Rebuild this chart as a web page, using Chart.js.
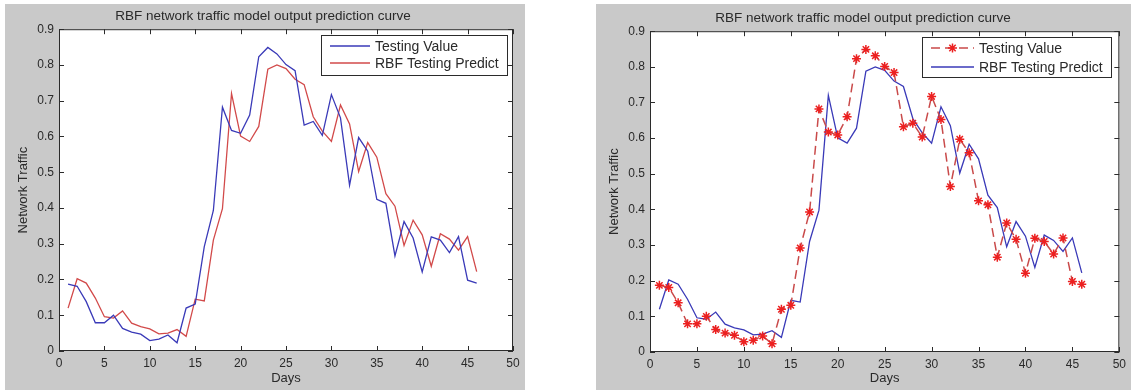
<!DOCTYPE html>
<html>
<head>
<meta charset="utf-8">
<script src="https://cdn.jsdelivr.net/npm/chart.js@4"></script>
<style>
  body { margin: 0; background: #fff; width: 1131px; height: 390px; position: relative; overflow: hidden; }
  .panel { position: absolute; top: 4px; height: 386px; background: #c9c9c9; }
  #left { left: 5px; width: 520px; }
  #right { left: 596px; width: 535px; }
  canvas { display: block; }
</style>
</head>
<body>
<div class="panel" id="left"><canvas id="chartA" width="520" height="386"></canvas></div>
<div class="panel" id="right"><canvas id="chartB" width="535" height="386"></canvas></div>
<script>
const days = [1, 2, 3, 4, 5, 6, 7, 8, 9, 10, 11, 12, 13, 14, 15, 16, 17, 18, 19, 20, 21, 22, 23,
              24, 25, 26, 27, 28, 29, 30, 31, 32, 33, 34, 35, 36, 37, 38, 39, 40, 41, 42, 43, 44, 45, 46];

const testingValue = [0.187, 0.181, 0.138, 0.079, 0.079, 0.100, 0.063, 0.053, 0.047, 0.029, 0.033, 0.045,
                      0.023, 0.120, 0.131, 0.292, 0.393, 0.682, 0.617, 0.609, 0.660, 0.823, 0.849, 0.831,
                      0.801, 0.784, 0.632, 0.642, 0.603, 0.717, 0.652, 0.464, 0.597, 0.559, 0.424, 0.413,
                      0.266, 0.362, 0.316, 0.221, 0.319, 0.310, 0.275, 0.320, 0.198, 0.190];

const rbfPredict = [0.120, 0.202, 0.190, 0.148, 0.096, 0.092, 0.112, 0.078, 0.068, 0.062, 0.048, 0.050,
                    0.060, 0.041, 0.145, 0.140, 0.310, 0.398, 0.720, 0.601, 0.586, 0.628, 0.788, 0.800,
                    0.790, 0.760, 0.745, 0.655, 0.615, 0.586, 0.688, 0.635, 0.502, 0.583, 0.542, 0.440,
                    0.405, 0.295, 0.366, 0.325, 0.237, 0.328, 0.313, 0.282, 0.320, 0.222];

const chartTitle = 'RBF network traffic model output prediction curve';
const xTitle = 'Days';
const yTitle = 'Network Traffic';

const BLUE = '#3a3ab8';
const RED = '#d24a4a';
const TEXT = '#2a2a2a';
const FONT = "'Liberation Sans', Arial, sans-serif";

function toPoints(values) {
  return values.map((v, i) => ({ x: days[i], y: v }));
}

// white axes background, then a box with inward tick marks like MATLAB
const matlabFrame = {
  id: 'matlabFrame',
  beforeDatasetsDraw(chart) {
    const { ctx, chartArea: a } = chart;
    ctx.save();
    ctx.fillStyle = '#fff';
    ctx.fillRect(a.left, a.top, a.right - a.left, a.bottom - a.top);
    ctx.restore();
  },
  afterDatasetsDraw(chart) {
    const { ctx, chartArea: a, scales: { x, y } } = chart;
    const len = 5;
    ctx.save();
    ctx.strokeStyle = '#2b2b2b';
    ctx.lineWidth = 1;
    ctx.strokeRect(a.left + 0.5, a.top + 0.5, a.right - a.left - 1, a.bottom - a.top - 1);
    ctx.beginPath();
    x.ticks.forEach(t => {
      const px = Math.round(x.getPixelForValue(t.value)) + 0.5;
      ctx.moveTo(px, a.bottom); ctx.lineTo(px, a.bottom - len);
      ctx.moveTo(px, a.top); ctx.lineTo(px, a.top + len);
    });
    y.ticks.forEach(t => {
      const py = Math.round(y.getPixelForValue(t.value)) + 0.5;
      ctx.moveTo(a.left, py); ctx.lineTo(a.left + len, py);
      ctx.moveTo(a.right, py); ctx.lineTo(a.right - len, py);
    });
    ctx.stroke();
    ctx.restore();
  }
};

// legend box in the upper right corner of the axes
const boxLegend = {
  id: 'boxLegend',
  afterDraw(chart, args, opts) {
    const { ctx, chartArea: a } = chart;
    ctx.save();
    ctx.font = '14px ' + FONT;
    const textW = Math.max(...chart.data.datasets.map(d => ctx.measureText(d.label).width));
    const w = Math.round(9 + opts.sample + 5 + textW + 8);
    const h = 40;
    const bx = Math.round(a.right - opts.right - w);
    const by = Math.round(a.top + 6);
    ctx.fillStyle = '#fff';
    ctx.fillRect(bx, by, w, h);
    ctx.strokeStyle = '#2b2b2b';
    ctx.lineWidth = 1;
    ctx.strokeRect(bx + 0.5, by + 0.5, w, h);
    chart.data.datasets.forEach((d, i) => {
      const yy = by + 11 + i * opts.rowGap;
      const x0 = bx + 9, x1 = x0 + opts.sample;
      ctx.strokeStyle = d.borderColor;
      ctx.lineWidth = d.borderWidth;
      ctx.setLineDash(d.borderDash || []);
      ctx.beginPath();
      ctx.moveTo(x0, yy); ctx.lineTo(x1, yy);
      ctx.stroke();
      ctx.setLineDash([]);
      if (d.pointRadius > 0) {
        ctx.strokeStyle = d.pointBorderColor;
        ctx.fillStyle = d.pointBackgroundColor;
        ctx.lineWidth = d.pointBorderWidth;
        Chart.helpers.drawPoint(ctx, {
          pointStyle: d.pointStyle, radius: d.pointRadius, borderWidth: d.pointBorderWidth
        }, (x0 + x1) / 2, yy);
      }
      ctx.fillStyle = TEXT;
      ctx.textBaseline = 'middle';
      ctx.fillText(d.label, x1 + 5, yy + 1);
    });
    ctx.restore();
  }
};

function makeChart(id, datasets, layout) {
  return new Chart(document.getElementById(id), {
    type: 'line',
    data: { datasets },
    options: {
      responsive: false,
      animation: false,
      layout: { padding: { left: 8, right: layout.right, top: 0, bottom: 0 } },
      elements: { line: { tension: 0 } },
      plugins: {
        legend: { display: false },
        tooltip: { enabled: false },
        title: {
          display: true,
          text: chartTitle,
          color: TEXT,
          font: { family: FONT, size: 13.5, weight: 'normal' },
          padding: { top: layout.titleTop, bottom: 5 }
        },
        boxLegend: { sample: layout.sample, right: layout.legendRight, rowGap: layout.rowGap }
      },
      scales: {
        x: {
          type: 'linear',
          min: 0, max: 50,
          grid: { display: false, drawTicks: false },
          border: { display: false },
          ticks: { stepSize: 5, padding: 5, color: TEXT, font: { family: FONT, size: 12 } },
          title: { display: true, text: xTitle, color: TEXT, font: { family: FONT, size: 13 }, padding: { top: 0, bottom: 4 } },
          afterFit(scale) { scale.height = layout.xHeight; }
        },
        y: {
          min: 0, max: 0.9,
          grid: { display: false, drawTicks: false },
          border: { display: false },
          ticks: { stepSize: 0.1, padding: 5, color: TEXT, font: { family: FONT, size: 12 } },
          title: { display: true, text: yTitle, color: TEXT, font: { family: FONT, size: 13 }, padding: { top: 3, bottom: 0 } },
          afterFit(scale) { scale.width = 46; }
        }
      }
    },
    plugins: [matlabFrame, boxLegend]
  });
}

makeChart('chartA', [
  { label: 'Testing Value', data: toPoints(testingValue), borderColor: BLUE, borderWidth: 1.3, pointRadius: 0 },
  { label: 'RBF Testing Predict', data: toPoints(rbfPredict), borderColor: RED, borderWidth: 1.3, pointRadius: 0 }
], { right: 12, titleTop: 4, xHeight: 39, sample: 40, legendRight: 6, rowGap: 17 });

makeChart('chartB', [
  { label: 'Testing Value', data: toPoints(testingValue), borderColor: '#c94a4a', borderWidth: 1.5, borderDash: [9, 5],
    pointStyle: 'star', pointRadius: 4.5, pointBorderWidth: 1.5, pointBorderColor: '#ec2020', pointBackgroundColor: '#ec2020' },
  { label: 'RBF Testing Predict', data: toPoints(rbfPredict), borderColor: BLUE, borderWidth: 1.3, pointRadius: 0 }
], { right: 9, titleTop: 6, xHeight: 38, sample: 43, legendRight: 8, rowGap: 19 });
</script>
</body>
</html>
